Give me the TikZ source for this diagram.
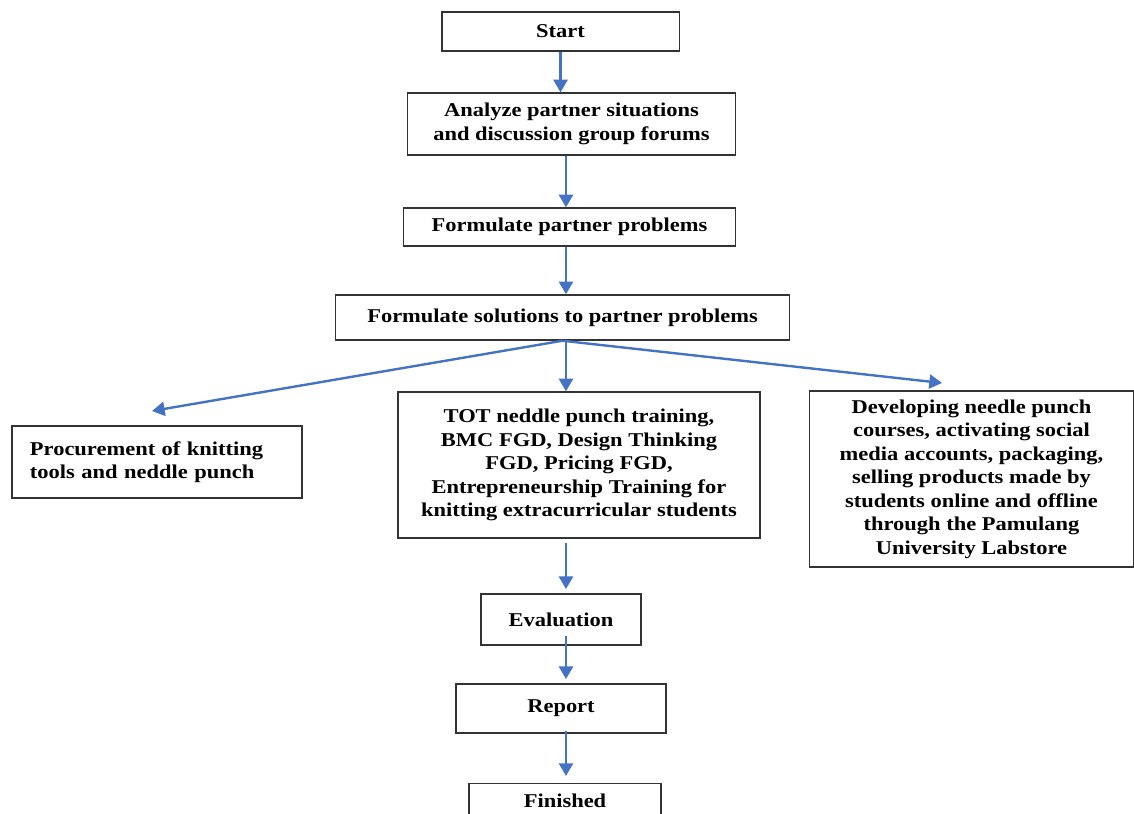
\documentclass[tikz,border=0pt]{standalone}
\usepackage{fontspec}
\setmainfont{Liberation Serif}[FakeStretch=1.15]
\usetikzlibrary{arrows.meta}
\definecolor{flowblue}{RGB}{68,114,196}

\begin{document}
\begin{tikzpicture}[x=0.025cm, y=-0.025cm,
		box/.style={draw=black!80, line width=0.9pt, align=center, inner sep=0pt,
			font=\fontsize{13.9}{16.7}\selectfont\bfseries},
		flow/.style={draw=flowblue, line width=1.7pt, -{Triangle[width=10pt,length=9pt]}}]
		\useasboundingbox (0,0) rectangle (1134,814);
		\coordinate (spine) at (566,0);
		\coordinate (toproc) at (152,411);
		\coordinate (todev) at (942,383);

		\node[box, minimum width=5.93cm, minimum height=0.98cm] (start) at (560.5,31.5) {Start};
		\node[box, minimum width=8.18cm, minimum height=1.55cm] (analyze) at (571.5,124)
			{Analyze partner situations\\ and discussion group forums};
		\node[box, minimum width=8.28cm, minimum height=0.95cm] (problems) at (569.5,227)
			{Formulate partner problems};
		\node[box, minimum width=11.33cm, minimum height=1.13cm] (solutions) at (562.5,317.5)
			{Formulate solutions to partner problems};
		\node[box, text width=6.35cm, align=left, inner xsep=0.45cm, minimum height=1.8cm] (procure) at (157,462)
			{Procurement of knitting\\ tools and neddle punch};
		\node[box, minimum width=9.05cm, minimum height=3.65cm] (training) at (579,465)
			{TOT neddle punch training,\\ BMC FGD, Design Thinking\\ FGD, Pricing FGD,\\
			 Entrepreneurship Training for\\ knitting extracurricular students};
		\node[box, minimum width=8.08cm, minimum height=4.4cm] (develop) at (971.5,479)
			{Developing needle punch\\ courses, activating social\\ media accounts, packaging,\\
			 selling products made by\\ students online and offline\\ through the Pamulang\\ University Labstore};
		\node[box, minimum width=4cm, minimum height=1.28cm] (evaluation) at (561,619.5) {Evaluation};
		\node[box, minimum width=5.25cm, minimum height=1.23cm] (report) at (561,708.5) {Report};
		\node[box, anchor=north, minimum width=4.8cm, minimum height=0.85cm] (finished) at (565,783) {Finished};

		\draw[flow] (start.south) -- (start.south |- analyze.north);
		\draw[flow] (analyze.south -| spine) -- (problems.north -| spine);
		\draw[flow] (problems.south -| spine) -- (solutions.north -| spine);
		\draw[flow] (solutions.south) -- (toproc);
		\draw[flow] (solutions.south -| spine) -- (training.north -| spine);
		\draw[flow] (solutions.south) -- (todev);
		\draw[flow, shorten <=3pt, shorten >=3pt] (training.south -| spine) -- (evaluation.north -| spine);
		\draw[flow, shorten <=-7pt, shorten >=3pt] (evaluation.south -| spine) -- (report.north -| spine);
		\draw[flow, shorten <=-2pt, shorten >=5pt] (report.south -| spine) -- (finished.north -| spine);
\end{tikzpicture}
\end{document}
